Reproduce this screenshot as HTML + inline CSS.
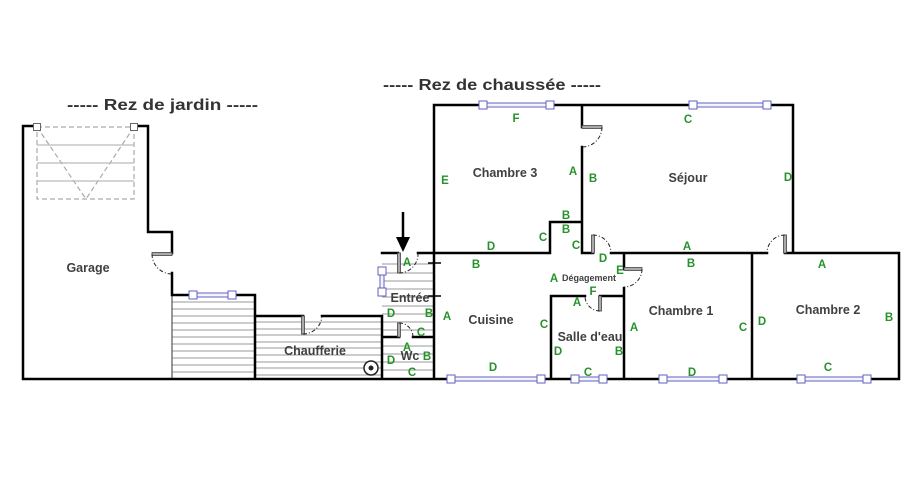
<!DOCTYPE html>
<html><head><meta charset="utf-8"><style>
html,body{margin:0;padding:0;background:#fff;}
svg{display:block;}
.t{font-family:"Liberation Sans",sans-serif;font-weight:bold;fill:#404040;}
.ti{font-family:"Liberation Sans",sans-serif;font-weight:bold;fill:#333;}
.g{font-family:"Liberation Sans",sans-serif;font-weight:bold;fill:#26922a;font-size:11.5px;text-anchor:middle;}
.w{stroke:#000;stroke-width:2.5;fill:none;stroke-linecap:square;}
.h{stroke:#9a9a9a;stroke-width:0.9;}
.arc{stroke:#222;stroke-width:1;fill:none;stroke-dasharray:4 2 1 2;}
.leaf{fill:#aaa;stroke:#444;stroke-width:0.8;}
</style></head><body>
<svg width="924" height="499" viewBox="0 0 924 499" xmlns="http://www.w3.org/2000/svg">
<rect width="924" height="499" fill="#fff"/>

<!-- Titles -->
<text class="ti" x="67" y="110" font-size="16" textLength="191" lengthAdjust="spacingAndGlyphs">----- Rez de jardin -----</text>
<text class="ti" x="383" y="90" font-size="16" textLength="218" lengthAdjust="spacingAndGlyphs">----- Rez de chaussée -----</text>

<!-- Hatching -->
<g class="h">
<line x1="172" y1="302" x2="255" y2="302"/><line x1="172" y1="309" x2="255" y2="309"/>
<line x1="172" y1="316" x2="255" y2="316"/><line x1="172" y1="323" x2="255" y2="323"/>
<line x1="172" y1="330" x2="255" y2="330"/><line x1="172" y1="337" x2="255" y2="337"/>
<line x1="172" y1="344" x2="255" y2="344"/><line x1="172" y1="351" x2="255" y2="351"/>
<line x1="172" y1="358" x2="255" y2="358"/><line x1="172" y1="365" x2="255" y2="365"/>
<line x1="172" y1="372" x2="255" y2="372"/>
<line x1="255" y1="322" x2="382" y2="322"/><line x1="255" y1="329" x2="382" y2="329"/>
<line x1="255" y1="335" x2="382" y2="335"/><line x1="255" y1="342" x2="382" y2="342"/>
<line x1="255" y1="348" x2="382" y2="348"/><line x1="255" y1="355" x2="382" y2="355"/>
<line x1="255" y1="362" x2="382" y2="362"/><line x1="255" y1="368" x2="382" y2="368"/>
<line x1="255" y1="375" x2="382" y2="375"/>
<line x1="382" y1="264" x2="434" y2="264"/><line x1="382" y1="273" x2="434" y2="273"/>
<line x1="382" y1="281" x2="434" y2="281"/><line x1="382" y1="289" x2="434" y2="289"/>
<line x1="382" y1="297" x2="434" y2="297"/><line x1="382" y1="306" x2="434" y2="306"/>
<line x1="382" y1="314" x2="434" y2="314"/><line x1="382" y1="322" x2="434" y2="322"/>
<line x1="382" y1="330" x2="434" y2="330"/><line x1="382" y1="346" x2="434" y2="346"/>
<line x1="382" y1="354" x2="434" y2="354"/><line x1="382" y1="362" x2="434" y2="362"/>
<line x1="382" y1="370" x2="434" y2="370"/>
</g>
<line x1="172" y1="295" x2="172" y2="379" stroke="#555" stroke-width="1.2"/>

<!-- Garage dashed stair -->
<g stroke="#aaa" stroke-width="1.2" fill="none">
<rect x="37" y="127" width="97" height="72" stroke-dasharray="5 3"/>
<line x1="37" y1="127" x2="86" y2="199" stroke-dasharray="5 3"/>
<line x1="134" y1="127" x2="86" y2="199" stroke-dasharray="5 3"/>
<line x1="37" y1="145" x2="134" y2="145" stroke="#bbb"/>
<line x1="37" y1="163" x2="134" y2="163" stroke="#bbb"/>
<line x1="37" y1="181" x2="134" y2="181" stroke="#bbb"/>
</g>

<!-- Walls -->
<path class="w" d="M23,379 V126 H34 M137,126 H148 V232 H172 V253 M172,273 V295 H255 V379
M255,316 H303 M322,316 H382 V379
M382,253 H398 M418,253 H550 V222 H582
M434,105 V379 M434,105 H793 V253
M582,105 V127 M582,147 V253 H593 M611,253 H767 M785,253 H899 V379
M23,379 H899
M752,253 V379 M624,253 V269 M624,288 V379
M551,296 H585 M600,296 H624 M551,296 V379
M382,337 H399 M413,337 H434"/>
<line x1="428" y1="263" x2="441" y2="263" stroke="#000" stroke-width="1.5"/>
<line x1="428" y1="296" x2="441" y2="296" stroke="#000" stroke-width="1.5"/>

<!-- Doors -->
<rect class="leaf" x="152" y="252.5" width="20" height="3"/>
<path class="arc" d="M152,254 A20,20 0 0 0 172,274"/>
<rect class="leaf" x="301.5" y="316" width="3" height="18"/>
<path class="arc" d="M303,334 A19,19 0 0 0 322,316"/>
<rect class="leaf" x="397.5" y="253" width="3" height="20"/>
<path class="arc" d="M399,273 A19,19 0 0 0 418,253"/>
<rect class="leaf" x="397.5" y="323" width="3" height="14"/>
<path class="arc" d="M399,323 A14,14 0 0 1 413,337"/>
<rect class="leaf" x="582" y="125.5" width="20" height="3"/>
<path class="arc" d="M602,127 A20,20 0 0 1 582,147"/>
<rect class="leaf" x="591.5" y="235" width="3" height="18"/>
<path class="arc" d="M593,235 A18,18 0 0 1 611,253"/>
<rect class="leaf" x="783.5" y="235" width="3" height="18"/>
<path class="arc" d="M785,235 A18,18 0 0 0 767,253"/>
<rect class="leaf" x="624" y="267.5" width="18" height="3"/>
<path class="arc" d="M642,269 A18,18 0 0 1 624,287"/>
<rect class="leaf" x="598.5" y="296" width="3" height="15"/>
<path class="arc" d="M600,311 A15,15 0 0 1 585,296"/>

<!-- Windows -->
<g stroke="#6262c0" stroke-width="1">
<rect x="193" y="293" width="39" height="4" fill="#f4f4ff"/>
<rect x="483" y="103" width="67" height="4" fill="#f4f4ff"/>
<rect x="693" y="103" width="74" height="4" fill="#f4f4ff"/>
<rect x="380" y="271" width="4" height="21" fill="#f4f4ff"/>
<rect x="451" y="377" width="90" height="4" fill="#f4f4ff"/>
<rect x="575" y="377" width="28" height="4" fill="#f4f4ff"/>
<rect x="663" y="377" width="60" height="4" fill="#f4f4ff"/>
<rect x="801" y="377" width="66" height="4" fill="#f4f4ff"/>
<g fill="#fff">
<rect x="189" y="291" width="8" height="8"/><rect x="228" y="291" width="8" height="8"/>
<rect x="479" y="101" width="8" height="8"/><rect x="546" y="101" width="8" height="8"/>
<rect x="689" y="101" width="8" height="8"/><rect x="763" y="101" width="8" height="8"/>
<rect x="378" y="267" width="8" height="8"/><rect x="378" y="288" width="8" height="8"/>
<rect x="447" y="375" width="8" height="8"/><rect x="537" y="375" width="8" height="8"/>
<rect x="571" y="375" width="8" height="8"/><rect x="599" y="375" width="8" height="8"/>
<rect x="659" y="375" width="8" height="8"/><rect x="719" y="375" width="8" height="8"/>
<rect x="797" y="375" width="8" height="8"/><rect x="863" y="375" width="8" height="8"/>
</g></g>
<g fill="#fff" stroke="#666" stroke-width="1">
<rect x="33.5" y="123.5" width="7" height="7"/><rect x="130.5" y="123.5" width="7" height="7"/>
</g>

<!-- Boiler -->
<circle cx="371" cy="368" r="7" fill="#fff" stroke="#222" stroke-width="1.5"/>
<circle cx="371" cy="368" r="2.5" fill="#222"/>

<!-- Arrow -->
<line x1="403" y1="212" x2="403" y2="240" stroke="#000" stroke-width="2.5"/>
<polygon points="396,237 410,237 403,252" fill="#000"/>

<!-- Room labels -->
<g class="t" font-size="12.5" text-anchor="middle">
<text x="88" y="272">Garage</text>
<text x="315" y="355">Chaufferie</text>
<text x="410" y="302">Entrée</text>
<text x="410" y="360">Wc</text>
<text x="505" y="177">Chambre 3</text>
<text x="688" y="182">Séjour</text>
<text x="491" y="324">Cuisine</text>
<text x="590" y="341">Salle d'eau</text>
<text x="681" y="315">Chambre 1</text>
<text x="828" y="314">Chambre 2</text>
<text x="589" y="281" font-size="9">Dégagement</text>
</g>

<!-- Green labels -->
<g class="g">
<text x="407" y="266">A</text>
<text x="391" y="317">D</text><text x="429" y="317">B</text>
<text x="421" y="336">C</text>
<text x="407" y="351">A</text>
<text x="391" y="364">D</text><text x="427" y="360">B</text>
<text x="412" y="376">C</text>
<text x="447" y="320">A</text>
<text x="516" y="122">F</text>
<text x="445" y="184">E</text>
<text x="573" y="175">A</text>
<text x="593" y="182">B</text>
<text x="566" y="219">B</text>
<text x="566" y="233">B</text>
<text x="543" y="241">C</text>
<text x="576" y="249">C</text>
<text x="491" y="250">D</text>
<text x="476" y="268">B</text>
<text x="603" y="262">D</text>
<text x="688" y="123">C</text>
<text x="788" y="181">D</text>
<text x="687" y="250">A</text>
<text x="691" y="267">B</text>
<text x="620" y="274">E</text>
<text x="554" y="282">A</text>
<text x="593" y="295">F</text>
<text x="577" y="306">A</text>
<text x="544" y="328">C</text>
<text x="493" y="371">D</text>
<text x="558" y="355">D</text>
<text x="619" y="355">B</text>
<text x="588" y="376">C</text>
<text x="634" y="331">A</text>
<text x="743" y="331">C</text>
<text x="692" y="376">D</text>
<text x="822" y="268">A</text>
<text x="762" y="325">D</text>
<text x="889" y="321">B</text>
<text x="828" y="371">C</text>
</g>
</svg>
</body></html>
